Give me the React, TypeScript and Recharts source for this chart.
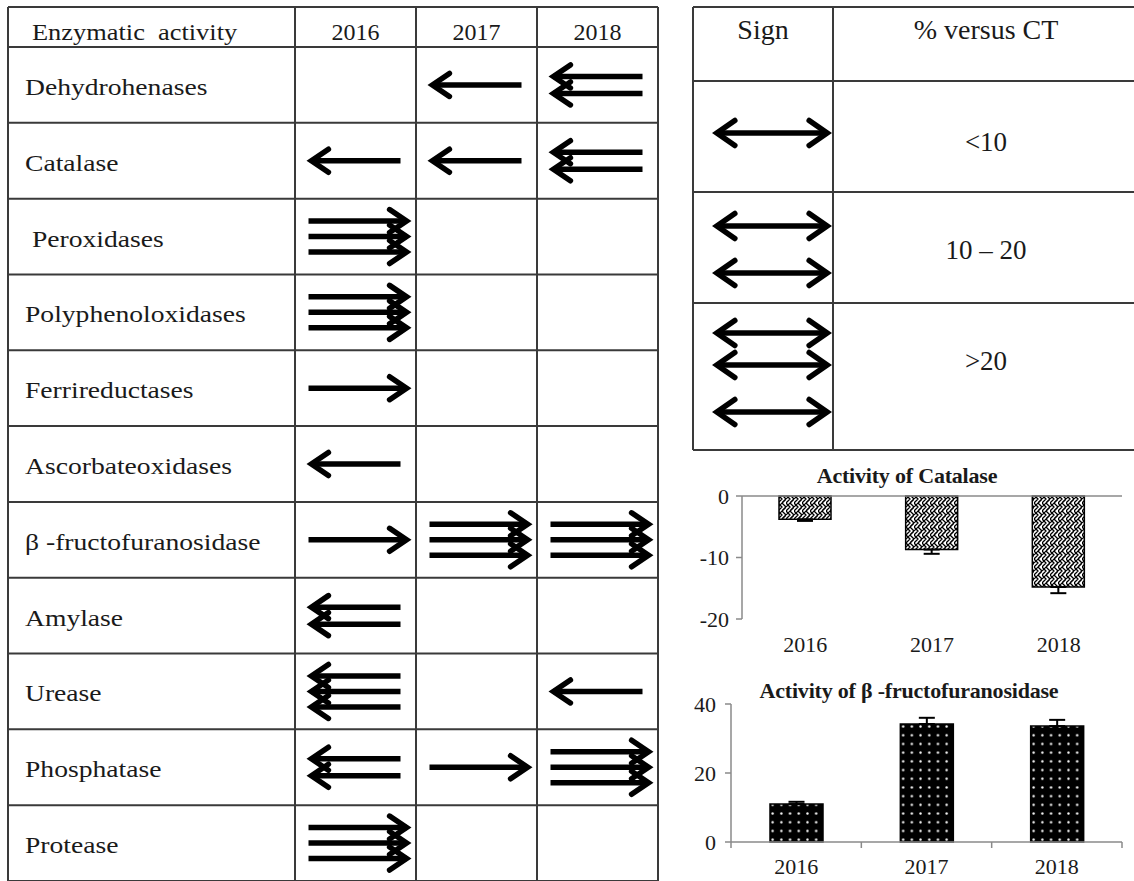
import React from 'react';
import { ScatterChart, Scatter, XAxis, YAxis, CartesianGrid, BarChart, Bar, ErrorBar } from 'recharts';

const FONT = "'Liberation Serif', 'Times New Roman', Times, serif";
const INK = '#1a1a1a';
const RULE = '#3a3a3a';
const AXIS = '#8a8a8a';

// ---------------- data ----------------
const enzymes = [
  'Dehydrohenases',
  'Catalase',
  ' Peroxidases',
  'Polyphenoloxidases',
  'Ferrireductases',
  'Ascorbateoxidases',
  'β -fructofuranosidase',
  'Amylase',
  'Urease',
  'Phosphatase',
  'Protease',
];
const years = ['2016', '2017', '2018'];
const firstHeader = 'Enzymatic  activity';

// dir: -1 = decrease (left arrow), 1 = increase (right arrow); level: 1 (<10 %), 2 (10–20 %), 3 (>20 %)
const arrowCells = [
  { enzyme: 'Dehydrohenases', year: '2017', dir: -1, level: 1 },
  { enzyme: 'Dehydrohenases', year: '2018', dir: -1, level: 2 },
  { enzyme: 'Catalase', year: '2016', dir: -1, level: 1 },
  { enzyme: 'Catalase', year: '2017', dir: -1, level: 1 },
  { enzyme: 'Catalase', year: '2018', dir: -1, level: 2 },
  { enzyme: ' Peroxidases', year: '2016', dir: 1, level: 3 },
  { enzyme: 'Polyphenoloxidases', year: '2016', dir: 1, level: 3 },
  { enzyme: 'Ferrireductases', year: '2016', dir: 1, level: 1 },
  { enzyme: 'Ascorbateoxidases', year: '2016', dir: -1, level: 1 },
  { enzyme: 'β -fructofuranosidase', year: '2016', dir: 1, level: 1 },
  { enzyme: 'β -fructofuranosidase', year: '2017', dir: 1, level: 3 },
  { enzyme: 'β -fructofuranosidase', year: '2018', dir: 1, level: 3 },
  { enzyme: 'Amylase', year: '2016', dir: -1, level: 2 },
  { enzyme: 'Urease', year: '2016', dir: -1, level: 3 },
  { enzyme: 'Urease', year: '2018', dir: -1, level: 1 },
  { enzyme: 'Phosphatase', year: '2016', dir: -1, level: 2 },
  { enzyme: 'Phosphatase', year: '2017', dir: 1, level: 1 },
  { enzyme: 'Phosphatase', year: '2018', dir: 1, level: 3 },
  { enzyme: 'Protease', year: '2016', dir: 1, level: 3 },
];

const legendHeader = ['Sign', '% versus CT'];
const legendLabels = ['<10', '10 – 20', '>20'];

const catalaseTitle = 'Activity of Catalase';
const catalaseMean = [-3.8, -8.7, -14.8];
const catalaseErr = [0.25, 0.7, 1.0];
const catalaseTicks = [-20, -10, 0];

const fructTitle = 'Activity of β -fructofuranosidase';
const fructMean = [11.0, 34.2, 33.6];
const fructErr = [0.65, 1.8, 1.8];
const fructTicks = [0, 20, 40];

// ---------------- derived tables ----------------
const cellPoints = arrowCells.map((c) => ({
  x: years.indexOf(c.year) + 0.5,
  y: enzymes.indexOf(c.enzyme) + 0.5,
  dir: c.dir,
  level: c.level,
}));
// slot = position of the year on a continuous [0, 3] scale (used for the between-category tick marks)
const catalaseData = years.map((y, i) => ({ year: y, slot: i + 0.5, value: catalaseMean[i], err: [catalaseErr[i], 0] }));
const fructData = years.map((y, i) => ({ year: y, slot: i + 0.5, value: fructMean[i], err: [0, fructErr[i]] }));

// layout constants of the left table (in axis units)
const LABEL_SPAN = 2.372; // width of the name column, in year-columns
const HEADER_SPAN = 0.5276; // height of the header row, in rows

const rowCenters = enzymes.map((_, i) => i + 0.5);
const rowEdges = [-HEADER_SPAN, ...enzymes.map((_, i) => i), enzymes.length];
const colEdges = [-LABEL_SPAN, ...years.map((_, i) => i), years.length];
const headerTicks = [-LABEL_SPAN, ...years.map((_, i) => i + 0.5)];
const edgeTicks = years.map((_, i) => i).concat([years.length]);
const edgeAndCenterTicks = [0, 0.5, 1, 1.5, 2, 2.5, 3];

// ---------------- drawing helpers ----------------
type ArrowProps = { from: number; to: number; y: number; both?: boolean; back?: number; half?: number; w?: number };
const ArrowLine = ({ from, to, y, both = false, back = 17, half = 11.5, w = 5.5 }: ArrowProps) => {
  const d = Math.sign(to - from);
  const inset = w / 2 / Math.sin(Math.atan2(half, back));
  const tip = to - d * inset;
  const tail = both ? from + d * inset : from;
  const head = (t: number, s: number) => `${t - s * back},${y - half} ${t},${y} ${t - s * back},${y + half}`;
  return (
    <g>
      <line x1={tail} y1={y} x2={tip} y2={y} stroke="#000" strokeWidth={w} />
      <polyline points={head(tip, d)} fill="none" stroke="#000" strokeWidth={w} strokeLinejoin="miter" strokeLinecap="round" />
      {both && (
        <polyline points={head(tail, -d)} fill="none" stroke="#000" strokeWidth={w} strokeLinejoin="miter" strokeLinecap="round" />
      )}
    </g>
  );
};

const levelOffsets = (level: number) => (level === 1 ? [0] : level === 2 ? [-8.5, 8.5] : [-15.5, 0, 15.5]);

const CellArrows = (props: any) => {
  const { cx, cy, payload } = props;
  const dir = payload.dir;
  const from = dir > 0 ? cx - 47 : cx + 45;
  const to = dir > 0 ? cx + 56 : cx - 49;
  return (
    <g>
      {levelOffsets(payload.level).map((o, i) => (
        <ArrowLine key={i} from={from} to={to} y={cy + o} />
      ))}
    </g>
  );
};

const HeaderTick = (props: any) => {
  const { x, y, payload } = props;
  const v = payload.value;
  if (v < 0) {
    return (
      <text
        transform={`translate(${x + 24},${y + 33}) scale(1.1,1)`}
        fontFamily={FONT}
        fontSize={24}
        fill={INK}
        style={{ whiteSpace: 'pre' }}
      >
        {firstHeader}
      </text>
    );
  }
  return (
    <text x={x} y={y + 33} textAnchor="middle" fontFamily={FONT} fontSize={24} fill={INK}>
      {years[Math.floor(v)]}
    </text>
  );
};

const RowTick = (props: any) => {
  const { x, y, payload } = props;
  return (
    <text
      transform={`translate(${x + 17},${y + 10}) scale(1.15,1)`}
      fontFamily={FONT}
      fontSize={24}
      fill={INK}
      style={{ whiteSpace: 'pre' }}
    >
      {enzymes[Math.floor(payload.value)]}
    </text>
  );
};

const CatalaseYearTick = (props: any) => {
  const { x, y, payload } = props;
  return (
    <text x={x} y={y + 33} textAnchor="middle" fontFamily={FONT} fontSize={22} fill={INK}>
      {payload.value}
    </text>
  );
};

const FructEdgeTick = (props: any) => {
  const { x, y, payload } = props;
  const v = payload.value;
  if (Number.isInteger(v)) {
    return <line x1={x} y1={y} x2={x} y2={y + 6} stroke={AXIS} strokeWidth={1.5} />;
  }
  return (
    <text x={x} y={y + 32} textAnchor="middle" fontFamily={FONT} fontSize={22} fill={INK}>
      {years[Math.floor(v)]}
    </text>
  );
};

const yTickStyle = { fontFamily: FONT, fontSize: 22, fill: INK };

// ---------------- components ----------------
const EnzymeTable = () => (
  <ScatterChart width={660} height={881} margin={{ top: 6, right: 2, bottom: 0, left: 7 }}>
    <XAxis
      dataKey="x"
      type="number"
      orientation="top"
      domain={[-LABEL_SPAN, years.length]}
      allowDataOverflow
      ticks={headerTicks}
      interval={0}
      height={1}
      axisLine={false}
      tickLine={false}
      tickSize={0}
      tickMargin={0}
      tick={(p: any) => <HeaderTick {...p} />}
    />
    <YAxis
      dataKey="y"
      type="number"
      reversed
      domain={[-HEADER_SPAN, enzymes.length]}
      allowDataOverflow
      ticks={rowCenters}
      interval={0}
      width={1}
      axisLine={false}
      tickLine={false}
      tickSize={0}
      tickMargin={0}
      tick={(p: any) => <RowTick {...p} />}
    />
    <CartesianGrid horizontalValues={rowEdges} verticalValues={colEdges} stroke={RULE} strokeWidth={2} fill="none" />
    <Scatter data={cellPoints} shape={(p: any) => <CellArrows {...p} />} isAnimationActive={false} />
  </ScatterChart>
);

const Legend = () => {
  const rowsY = [7, 81, 192, 303, 450];
  const arrowYs = [[133], [226, 273], [333, 365, 412]];
  const labelY = [151, 259, 370];
  return (
    <svg width={454} height={460} style={{ position: 'absolute', left: 680, top: 0 }}>
      <g transform="translate(-680,0)">
        {rowsY.map((y) => (
          <line key={y} x1={693} x2={1134} y1={y} y2={y} stroke={RULE} strokeWidth={2} />
        ))}
        <line x1={693} x2={693} y1={7} y2={450} stroke={RULE} strokeWidth={2} />
        <line x1={833} x2={833} y1={7} y2={450} stroke={RULE} strokeWidth={2} />
        <text x={763} y={39} textAnchor="middle" fontFamily={FONT} fontSize={28} fill={INK}>
          {legendHeader[0]}
        </text>
        <text x={986} y={39} textAnchor="middle" fontFamily={FONT} fontSize={28} fill={INK}>
          {legendHeader[1]}
        </text>
        {legendLabels.map((l, i) => (
          <text key={l} x={986} y={labelY[i]} textAnchor="middle" fontFamily={FONT} fontSize={27} fill={INK}>
            {l}
          </text>
        ))}
        {arrowYs.map((ys, i) =>
          ys.map((y) => <ArrowLine key={`${i}-${y}`} from={712} to={832} y={y} both back={18} half={12.5} w={5.5} />)
        )}
      </g>
    </svg>
  );
};

const Patterns = () => (
  <defs>
    <pattern id="zigPat" patternUnits="userSpaceOnUse" width={8} height={8}>
      <rect width={8} height={8} fill="#fff" />
      <path d="M0,0 L4,4 L0,8 M4,0 L8,4 L4,8" fill="none" stroke="#000" strokeWidth={1.3} />
      <path d="M0,4 L4,0 M4,8 L8,4" fill="none" stroke="#000" strokeWidth={1.1} />
    </pattern>
    <pattern id="dotPat" patternUnits="userSpaceOnUse" width={8.7} height={8.7}>
      <rect width={8.7} height={8.7} fill="#000" />
      <circle cx={4.35} cy={4.35} r={1.2} fill="#fff" />
    </pattern>
  </defs>
);

const CatalaseChart = () => (
  <BarChart width={444} height={212} data={catalaseData} margin={{ top: 41, right: 12, bottom: 12, left: 0 }}>
    <Patterns />
    <XAxis
      xAxisId="edge"
      dataKey="slot"
      type="number"
      domain={[0, years.length]}
      allowDataOverflow
      ticks={edgeTicks}
      interval={0}
      orientation="top"
      mirror
      height={1}
      tick={false}
      tickSize={6}
      axisLine={{ stroke: AXIS, strokeWidth: 1.5 }}
      tickLine={{ stroke: AXIS, strokeWidth: 1.5 }}
    />
    <XAxis
      xAxisId="cat"
      dataKey="year"
      height={36}
      interval={0}
      axisLine={false}
      tickLine={false}
      tickSize={0}
      tickMargin={0}
      tick={(p: any) => <CatalaseYearTick {...p} />}
    />
    <YAxis
      domain={[-20, 0]}
      ticks={catalaseTicks}
      width={52}
      interval={0}
      tickSize={6}
      tickMargin={7}
      axisLine={{ stroke: AXIS, strokeWidth: 1.5 }}
      tickLine={{ stroke: AXIS, strokeWidth: 1.5 }}
      tick={yTickStyle}
    />
    <Bar xAxisId="cat" dataKey="value" fill="url(#zigPat)" stroke="#000" strokeWidth={1.5} barSize={52} isAnimationActive={false}>
      <ErrorBar dataKey="err" width={8} stroke="#000" strokeWidth={2} direction="y" />
    </Bar>
  </BarChart>
);

const FructChart = () => (
  <BarChart width={444} height={211} data={fructData} margin={{ top: 34, right: 12, bottom: 0, left: 0 }}>
    <Patterns />
    <XAxis
      xAxisId="edge"
      dataKey="slot"
      type="number"
      domain={[0, years.length]}
      allowDataOverflow
      ticks={edgeAndCenterTicks}
      interval={0}
      height={39}
      tickLine={false}
      tickSize={0}
      tickMargin={0}
      axisLine={{ stroke: AXIS, strokeWidth: 1.5 }}
      tick={(p: any) => <FructEdgeTick {...p} />}
    />
    <XAxis xAxisId="cat" dataKey="year" hide height={0} />
    <YAxis
      domain={[0, 40]}
      ticks={fructTicks}
      width={41}
      interval={0}
      tickSize={6}
      tickMargin={9}
      axisLine={{ stroke: AXIS, strokeWidth: 1.5 }}
      tickLine={{ stroke: AXIS, strokeWidth: 1.5 }}
      tick={yTickStyle}
    />
    <Bar xAxisId="cat" dataKey="value" fill="url(#dotPat)" stroke="#000" strokeWidth={1.5} barSize={53} isAnimationActive={false}>
      <ErrorBar dataKey="err" width={8} stroke="#000" strokeWidth={2} direction="y" />
    </Bar>
  </BarChart>
);

const Title = ({ text, cx, baseline }: { text: string; cx: number; baseline: number }) => (
  <svg width={444} height={40} style={{ position: 'absolute', left: cx - 222, top: baseline - 28 }}>
    <text x={222} y={28} textAnchor="middle" fontFamily={FONT} fontWeight="bold" fontSize={22} fill={INK} letterSpacing={-0.2}>
      {text}
    </text>
  </svg>
);

export default function App() {
  return (
    <div
      style={{
        position: 'absolute',
        left: 0,
        top: 0,
        width: 1134,
        height: 881,
        overflow: 'hidden',
        background: '#fff',
        fontFamily: FONT,
      }}
    >
      <div style={{ position: 'absolute', left: 0, top: 0 }}>
        <EnzymeTable />
      </div>
      <Legend />
      <div style={{ position: 'absolute', left: 690, top: 455 }}>
        <CatalaseChart />
      </div>
      <div style={{ position: 'absolute', left: 690, top: 670 }}>
        <FructChart />
      </div>
      <Title text={catalaseTitle} cx={907} baseline={483} />
      <Title text={fructTitle} cx={909} baseline={698} />
    </div>
  );
}
